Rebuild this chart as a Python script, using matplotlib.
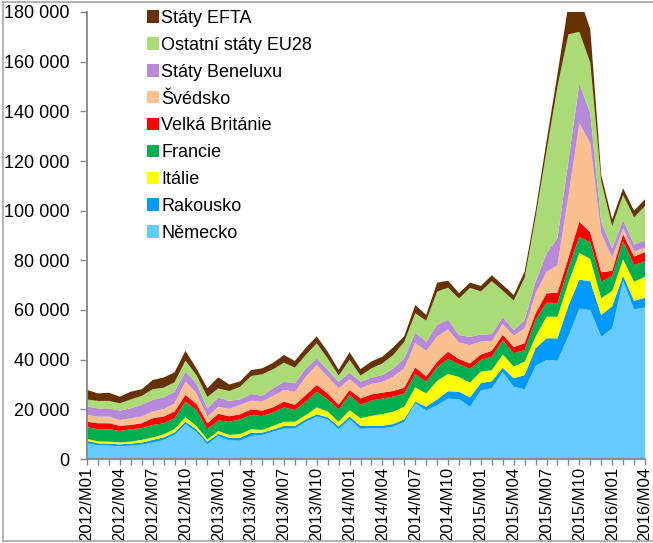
import numpy as np
import matplotlib
matplotlib.use('Agg')
import matplotlib.pyplot as plt
from matplotlib.ticker import FuncFormatter, MultipleLocator
from matplotlib.lines import Line2D
from matplotlib.patches import Patch

plt.rcParams['font.family'] = ['Liberation Sans', 'DejaVu Sans']

# Categories: monthly, 2012/M01 .. 2016/M04
months = [f"{y}/M{m:02d}" for y in range(2012, 2017) for m in range(1, 13)][:52]

# Values in thousands of persons
nemecko = [6.3,5.5,5.4,5.1,5.4,5.8,6.6,7.7,9.7,14.0,11.0,6.0,9.2,7.5,7.4,9.3,9.7,11.0,12.3,12.3,
           15.0,17.1,16.0,12.0,16.0,12.2,12.5,12.3,13.0,15.0,22.4,19.5,21.7,24.3,24.1,21.0,27.6,28.5,35.0,29.1,
           28.1,37.5,39.9,39.6,49.5,60.5,60.0,49.2,52.6,71.8,60.3,61.0]
rakousko = [1.0,0.8,0.8,0.8,0.8,0.8,1.1,1.0,1.0,1.0,1.0,1.0,0.9,1.1,1.2,1.3,0.9,0.9,1.0,1.0,
            1.0,0.9,0.8,1.1,1.1,1.1,0.8,1.1,1.1,1.0,0.7,1.6,2.3,3.0,3.0,3.8,3.0,2.8,1.8,3.4,
            5.7,7.1,8.7,9.0,12.2,11.7,11.6,8.8,8.9,2.0,3.4,3.9]
italie = [0.8,0.8,0.8,0.8,0.8,1.1,1.0,1.2,1.4,1.8,1.3,0.9,1.2,1.1,1.5,1.4,1.1,1.4,1.7,1.7,
          1.7,2.8,2.3,1.9,2.6,3.1,4.1,4.7,5.0,5.1,5.8,5.3,7.5,7.0,5.9,6.0,4.6,4.5,5.3,4.8,
          5.4,4.7,8.7,8.7,9.3,10.8,9.0,6.7,6.2,6.6,7.7,8.5]
francie = [4.7,4.9,5.0,4.6,5.0,4.7,5.0,4.5,4.3,6.3,6.4,4.1,4.2,5.3,5.9,5.7,5.6,5.4,5.8,4.7,
           5.4,6.3,4.9,5.0,6.1,5.4,6.1,6.3,6.0,5.3,5.3,4.7,5.5,6.0,5.2,5.5,4.7,5.4,5.7,5.3,
           4.7,6.7,5.7,5.4,6.0,6.5,6.6,6.7,6.1,7.3,6.7,6.1]
velka_britanie = [2.2,2.4,2.4,2.1,1.7,2.0,2.7,2.7,2.7,2.7,2.5,2.4,2.7,2.2,2.0,2.3,2.2,2.1,2.3,2.1,
                  2.7,2.7,2.4,1.8,2.0,2.6,2.5,2.3,2.3,2.3,2.7,2.1,2.2,2.9,2.0,2.2,2.2,2.4,2.2,2.5,
                  2.7,2.7,3.7,4.3,4.0,6.1,4.0,3.8,2.0,2.9,3.4,3.8]
svedsko = [2.7,2.7,2.7,2.3,2.7,2.7,2.7,3.0,3.3,5.4,4.3,2.7,2.8,3.0,3.8,3.5,3.6,4.6,4.7,5.3,
           7.4,8.1,6.8,6.7,4.3,4.1,4.3,4.4,5.8,7.8,9.9,10.4,10.1,9.0,6.7,7.4,5.2,3.9,4.4,4.6,
           6.0,8.0,8.7,11.1,25.0,39.6,35.9,15.7,5.4,2.3,2.0,1.9]
benelux = [3.4,3.3,3.3,3.8,4.0,4.7,4.7,4.7,4.7,4.0,4.0,3.3,3.8,3.2,2.2,2.7,2.3,3.1,3.3,3.4,
           3.3,2.6,2.6,2.6,2.7,2.6,2.5,2.7,3.3,4.0,4.1,3.6,4.7,3.9,3.0,3.3,2.8,2.8,2.8,2.2,
           3.4,4.7,7.4,10.8,14.0,16.1,12.1,4.6,3.6,3.4,2.9,2.8]
ostatni_eu28 = [2.9,3.0,3.0,2.9,3.6,3.6,4.3,3.9,3.8,4.4,3.3,4.6,3.6,4.0,5.1,7.2,8.7,7.6,7.7,6.3,
                5.4,6.1,4.7,2.5,5.1,2.5,3.7,4.7,5.4,6.7,7.8,8.5,13.4,12.9,14.7,19.7,17.4,21.3,10.6,11.9,
                17.0,26.0,41.2,61.1,51.0,20.7,20.3,16.2,9.0,10.0,10.9,13.9]
efta = [3.8,3.0,3.3,2.7,3.1,2.7,3.7,4.1,4.0,4.0,2.7,3.5,4.5,2.6,2.2,2.4,2.4,2.6,3.1,2.7,
        2.9,2.8,2.7,2.3,3.1,2.6,2.8,2.7,3.1,2.3,3.3,2.3,3.6,2.8,2.2,2.1,2.2,2.4,2.3,2.2,
        2.5,2.6,4.0,5.0,12.0,14.0,13.5,2.7,2.7,2.7,2.7,2.7]

series = [nemecko, rakousko, italie, francie, velka_britanie, svedsko, benelux, ostatni_eu28, efta]
labels = ['Německo', 'Rakousko', 'Itálie', 'Francie', 'Velká Británie', 'Švédsko',
          'Státy Beneluxu', 'Ostatní státy EU28', 'Státy EFTA']
colors = ['#66CCFF', '#0099FF', '#FFFF00', '#00B050', '#FF0000', '#FAC090',
          '#B689D9', '#ABDB77', '#663300']

W, H = 653, 543
fig = plt.figure(figsize=(W / 100, H / 100), dpi=100)
L, R, T, B = 87, 645, 12, 459
ax = fig.add_axes([L / W, 1 - B / H, (R - L) / W, (B - T) / H])

x = np.arange(len(months))
ax.stackplot(x, *series, colors=colors, labels=labels, linewidth=0)

ax.set_xlim(0, len(months) - 1)
ax.set_ylim(0, 180)
ax.yaxis.set_major_locator(MultipleLocator(20))
ax.yaxis.set_major_formatter(FuncFormatter(lambda v, p: f"{int(round(v * 1000)):,}".replace(',', ' ')))

ax.set_xticks(x[::3])
ax.set_xticklabels(months[::3], rotation=90, fontsize=12)
ax.set_xticks(x, minor=True)

grey = '#868686'
for s in ['top', 'right']:
    ax.spines[s].set_visible(False)
for s in ['left', 'bottom']:
    ax.spines[s].set_color(grey)
    ax.spines[s].set_linewidth(1.3)
ax.tick_params(axis='y', direction='out', length=5, color=grey, labelsize=13, pad=7.5, width=1)
ax.tick_params(axis='x', which='both', direction='out', length=4, color=grey, pad=1.5, width=1)

handles = [Patch(facecolor=c, edgecolor='none') for c in colors]
leg = ax.legend(handles[::-1], labels[::-1], loc='upper left',
                bbox_to_anchor=((147 - L) / (R - L), (B - 10) / (B - T)),
                frameon=False, fontsize=13, handlelength=0.68, handleheight=0.68,
                handletextpad=0.12, labelspacing=0.545, borderpad=0, borderaxespad=0)

# chart-area border
bc = '#A6A6A6'
fig.add_artist(Line2D([3 / W, 3 / W], [1 - 541 / H, 1 - 2 / H], color=bc, lw=1.2))
fig.add_artist(Line2D([3 / W, 1], [1 - 2 / H, 1 - 2 / H], color=bc, lw=1.2))
fig.add_artist(Line2D([3 / W, 1], [1 - 541 / H, 1 - 541 / H], color=bc, lw=1.2))

fig.savefig('out.png', dpi=100)
